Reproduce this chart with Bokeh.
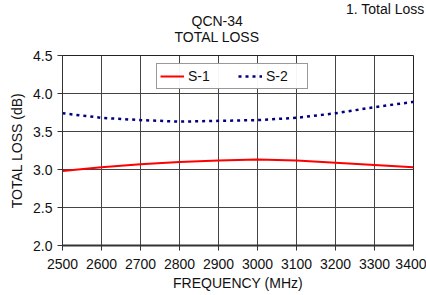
from bokeh.plotting import figure
from bokeh.models import Title, Legend, LegendItem, FixedTicker, Range1d, CustomJSTickFormatter
from bokeh.embed import file_html
from bokeh.resources import INLINE

freq = [2500, 2600, 2700, 2800, 2900, 3000, 3100, 3200, 3300, 3400]
s1 = [2.98, 3.03, 3.07, 3.10, 3.12, 3.13, 3.12, 3.09, 3.06, 3.03]
s2 = [3.74, 3.68, 3.65, 3.63, 3.64, 3.65, 3.68, 3.74, 3.82, 3.89]
x_ticks = [2500, 2600, 2700, 2800, 2900, 3000, 3100, 3200, 3300, 3400]
y_ticks = [2.0, 2.5, 3.0, 3.5, 4.0, 4.5]
series_names = ["S-1", "S-2"]
title_lines = ["QCN-34", "TOTAL LOSS"]
corner_note = "1. Total Loss"

FONT = "Liberation Sans"
FS = "14px"

p = figure(width=426, height=295, output_backend="svg", toolbar_location=None,
           x_range=Range1d(2500, 3400), y_range=Range1d(2.0, 4.5),
           min_border_left=62, min_border_top=55, min_border_right=13, min_border_bottom=50)
p.outline_line_color = "#222222"
p.outline_line_width = 1

for ax in (p.xaxis[0], p.yaxis[0]):
    ax.major_label_text_font = FONT
    ax.major_label_text_font_size = FS
    ax.major_label_text_color = "#111111"
    ax.axis_label_text_font = FONT
    ax.axis_label_text_font_size = FS
    ax.axis_label_text_font_style = "normal"
    ax.axis_label_text_color = "#111111"
    ax.minor_tick_line_color = None
    ax.major_tick_in = 0
    ax.major_tick_out = 5
    ax.major_tick_line_color = "#333333"
    ax.axis_line_color = "#333333"

p.xaxis.ticker = FixedTicker(ticks=x_ticks)
p.yaxis.ticker = FixedTicker(ticks=y_ticks)
p.yaxis.formatter = CustomJSTickFormatter(code="return tick.toFixed(1);")
p.xaxis.axis_label = "FREQUENCY (MHz)"
p.yaxis.axis_label = "TOTAL LOSS (dB)"
p.xaxis.axis_line_width = 2
p.xaxis.major_label_standoff = 8
p.xaxis.axis_label_standoff = 3
p.yaxis.major_label_standoff = 5
p.yaxis.axis_label_standoff = 5

p.xgrid.ticker = FixedTicker(ticks=x_ticks)
p.ygrid.ticker = FixedTicker(ticks=y_ticks)
for g in (p.xgrid[0], p.ygrid[0]):
    g.grid_line_color = "#444444"
    g.grid_line_width = 1

r1 = p.line(freq, s1, line_color="#ff0000", line_width=2)
r2 = p.line(freq, s2, line_color="#000080", line_width=2.5, line_dash="3 4")

legend = Legend(items=[LegendItem(label=series_names[0], renderers=[r1]),
                       LegendItem(label=series_names[1], renderers=[r2])],
                orientation="horizontal", location=(94, 156))
legend.label_text_font = FONT
legend.label_text_font_size = FS
legend.label_text_color = "#111111"
legend.border_line_color = "#333333"
legend.border_line_width = 1
legend.padding = 3
legend.margin = 0
legend.glyph_width = 24
legend.label_standoff = 4
legend.label_width = 38
legend.spacing = 12
legend.label_height = 18
legend.glyph_height = 18
p.add_layout(legend, "center")

tstyle = dict(text_font=FONT, text_font_style="normal", text_color="#111111")
spacer = Title(text=" ", standoff=-5, text_font_size="13px", **tstyle)
t_total = Title(text=title_lines[1], align="left", offset=112, standoff=-2,
                text_font_size=FS, **tstyle)
t_qcn = Title(text=title_lines[0], align="left", offset=129, standoff=-2,
              text_font_size=FS, **tstyle)
t_note = Title(text=corner_note, align="right", offset=-11, standoff=-10,
               text_font_size=FS, **tstyle)
for t in (spacer, t_total, t_qcn, t_note):
    p.add_layout(t, "above")

open("out.html", "w").write(file_html(p, INLINE))
